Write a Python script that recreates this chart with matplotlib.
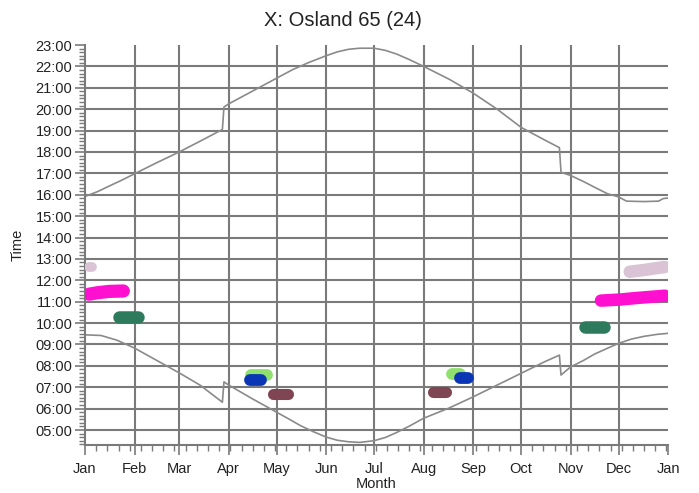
import matplotlib
matplotlib.use("Agg")
import matplotlib.pyplot as plt
from matplotlib.ticker import MultipleLocator, FixedLocator, FuncFormatter

plt.rcParams['font.family'] = ['Liberation Sans', 'DejaVu Sans']

# ---- data ----
month_labels = ["Jan", "Feb", "Mar", "Apr", "May", "Jun", "Jul", "Aug",
                "Sep", "Oct", "Nov", "Dec", "Jan"]
month_starts = [0, 31, 59, 90, 120, 151, 181, 212, 243, 273, 304, 334, 365]
hour_ticks = list(range(5, 24))

sunset_days = [0, 8, 15, 23, 31, 45, 59, 72, 86, 87, 90, 105, 120, 130, 140,
               151, 158, 165, 172, 181, 188, 195, 203, 212, 228, 243, 258, 273,
               288, 297, 298, 304, 312, 319, 327, 334, 339, 350, 359, 362, 365]
sunset_time = [15.92, 16.15, 16.40, 16.68, 16.98, 17.50, 18.00, 18.50, 19.05,
               20.10, 20.25, 20.85, 21.45, 21.85, 22.18, 22.50, 22.68, 22.80,
               22.85, 22.85, 22.75, 22.58, 22.32, 22.00, 21.40, 20.75, 20.00,
               19.15, 18.55, 18.20, 17.05, 16.90, 16.62, 16.35, 16.05, 15.90,
               15.70, 15.68, 15.70, 15.82, 15.85]

sunrise_days = [0, 10, 20, 31, 45, 59, 72, 86, 87, 90, 105, 120, 128, 135, 143,
                151, 158, 165, 172, 181, 188, 195, 203, 212, 228, 243, 258, 273,
                288, 297, 298, 304, 312, 319, 327, 334, 342, 350, 358, 365]
sunrise_time = [9.45, 9.42, 9.20, 8.83, 8.25, 7.67, 7.10, 6.30, 7.25, 7.10,
                6.45, 5.83, 5.50, 5.20, 4.92, 4.67, 4.52, 4.45, 4.42, 4.50,
                4.65, 4.88, 5.18, 5.55, 6.03, 6.55, 7.10, 7.65, 8.20, 8.50,
                7.57, 7.95, 8.25, 8.55, 8.82, 9.05, 9.25, 9.38, 9.47, 9.52]

# observation blobs
lilac_jan_days = [2.5, 4.5]
lilac_jan_time = [12.62, 12.62]
lilac_dec_days = [341, 350, 356, 363]
lilac_dec_time = [12.40, 12.48, 12.55, 12.62]
magenta_jan_days = [2.5, 8, 15, 24]
magenta_jan_time = [11.35, 11.42, 11.48, 11.50]
magenta_dec_days = [323, 335, 345, 355, 363]
magenta_dec_time = [11.05, 11.10, 11.17, 11.23, 11.28]
green_jan_days = [21, 33]
green_jan_time = [10.30, 10.30]
green_nov_days = [313, 325]
green_nov_time = [9.82, 9.82]
lgreen_apr_days = [104, 114]
lgreen_apr_time = [7.55, 7.55]
blue_apr_days = [103, 110]
blue_apr_time = [7.35, 7.35]
maroon_may_days = [118, 127]
maroon_may_time = [6.69, 6.69]
maroon_aug_days = [218, 226]
maroon_aug_time = [6.78, 6.78]
lgreen_aug_days = [230, 235]
lgreen_aug_time = [7.60, 7.60]
blue_sep_days = [235, 240]
blue_sep_time = [7.42, 7.42]

blobs = [
    (lilac_jan_days, lilac_jan_time, "#d9c3d5", 7),
    (lilac_dec_days, lilac_dec_time, "#d9c3d5", 9),
    (magenta_jan_days, magenta_jan_time, "#ff10d0", 9.5),
    (magenta_dec_days, magenta_dec_time, "#ff10d0", 9),
    (green_jan_days, green_jan_time, "#2e7a5c", 9),
    (green_nov_days, green_nov_time, "#2e7a5c", 9),
    (lgreen_apr_days, lgreen_apr_time, "#90e070", 8.5),
    (lgreen_aug_days, lgreen_aug_time, "#90e070", 8.5),
    (blue_apr_days, blue_apr_time, "#0a35b5", 8.5),
    (blue_sep_days, blue_sep_time, "#0a35b5", 8.5),
    (maroon_may_days, maroon_may_time, "#804552", 8),
    (maroon_aug_days, maroon_aug_time, "#804552", 8),
]

# ---- figure ----
fig = plt.figure(figsize=(6.99, 4.93), dpi=100)
ax = fig.add_axes([0.1216, 0.0974, 0.8341, 0.8113])
ax.set_xlim(0, 365)
ax.set_ylim(4.3, 23.0)

grid_col = "#7a7a7a"
for h in hour_ticks[:-1]:
    ax.axhline(h, color=grid_col, lw=1.5, zorder=1)
for d in month_starts[1:-1]:
    ax.axvline(d, color=grid_col, lw=1.5, zorder=1)

ax.plot(sunset_days, sunset_time, color="#8a8a8a", lw=1.2, zorder=2)
ax.plot(sunrise_days, sunrise_time, color="#8a8a8a", lw=1.2, zorder=2)

for dd, tt, c, w in blobs:
    ax.plot(dd, tt, color=c, lw=w, solid_capstyle="round",
            solid_joinstyle="round", zorder=3)

for s in ["top", "right"]:
    ax.spines[s].set_visible(False)
for s in ["left", "bottom"]:
    ax.spines[s].set_color(grid_col)
    ax.spines[s].set_linewidth(1.5)

ax.xaxis.set_major_locator(FixedLocator(month_starts))
ax.set_xticklabels(month_labels)
ax.xaxis.set_minor_locator(MultipleLocator(7))
ax.yaxis.set_major_locator(FixedLocator(hour_ticks))
ax.yaxis.set_major_formatter(FuncFormatter(lambda v, p: "%02d:00" % int(round(v))))
ax.yaxis.set_minor_locator(MultipleLocator(1 / 6))

ax.tick_params(which="major", length=7, width=1.2, color=grid_col,
               labelsize=10.5, labelcolor="#222222")
ax.tick_params(axis="y", which="major", pad=2)
ax.tick_params(axis="x", which="major", pad=5)
ax.tick_params(which="minor", length=4, width=1.0, color=grid_col)

fig.text(0.49, 0.958, "X: Osland 65 (24)", fontsize=14.5, color="#222222",
         ha="center", va="center")
ax.set_xlabel("Month", fontsize=10.5, color="#222222", labelpad=1)
ax.set_ylabel("Time", fontsize=10.5, color="#222222", labelpad=8)

fig.savefig("out.png", dpi=100)
